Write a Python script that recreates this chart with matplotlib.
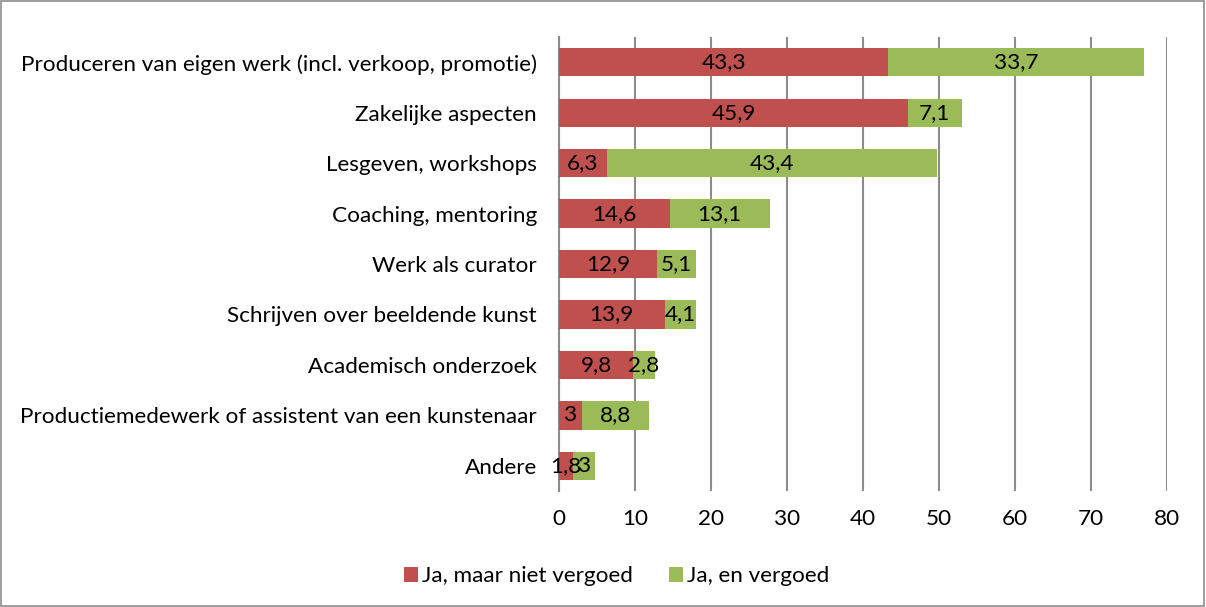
import matplotlib.pyplot as plt
import matplotlib.patches as patches
import numpy as np

categories = [
    "Produceren van eigen werk (incl. verkoop, promotie)",
    "Zakelijke aspecten",
    "Lesgeven, workshops",
    "Coaching, mentoring",
    "Werk als curator",
    "Schrijven over beeldende kunst",
    "Academisch onderzoek",
    "Productiemedewerk of assistent van een kunstenaar",
    "Andere",
]
niet_vergoed = [43.3, 45.9, 6.3, 14.6, 12.9, 13.9, 9.8, 3, 1.8]
vergoed = [33.7, 7.1, 43.4, 13.1, 5.1, 4.1, 2.8, 8.8, 3]
series_names = ["Ja, maar niet vergoed", "Ja, en vergoed"]
xticks = [0, 10, 20, 30, 40, 50, 60, 70, 80]

RED = "#C0504D"
GREEN = "#9BBB59"
GRID = "#8C8C8C"
FS = 16.2

plt.rcParams["font.family"] = ["Lato", "DejaVu Sans"]

fig = plt.figure(figsize=(12.06, 6.07), dpi=100)
ax = fig.add_axes([0.4635, 0.191, 0.5042, 0.748])

y = np.arange(len(categories))
h = 0.56
b1 = ax.barh(y, niet_vergoed, height=h, color=RED, label=series_names[0], zorder=3)
b2 = ax.barh(y, vergoed, left=niet_vergoed, height=h, color=GREEN,
             label=series_names[1], zorder=3)


def fmt(v):
    return f"{v:g}".replace(".", ",")


# labels sit in the middle of each segment (1,8 and 3 overlap, as in the source)
for rects, vals in ((b1, niet_vergoed), (b2, vergoed)):
    for r, v in zip(rects, vals):
        ax.text(r.get_x() + r.get_width() / 2, r.get_y() + r.get_height() / 2,
                fmt(v), ha="center", va="center", fontsize=FS, zorder=4)

ax.set_ylim(len(categories) - 0.5, -0.5)
ax.set_xlim(0, 80)
ax.set_xticks(xticks)
ax.set_yticks(y)
ax.set_yticklabels(categories, fontsize=FS)
ax.tick_params(axis="x", labelsize=FS, length=0, pad=13)
ax.tick_params(axis="y", length=0, pad=16)
ax.grid(axis="x", color=GRID, linewidth=1.5, zorder=0)
for s in ["top", "right", "bottom"]:
    ax.spines[s].set_visible(False)
ax.spines["left"].set_color(GRID)
ax.spines["left"].set_linewidth(1.5)

fig.legend(handles=[b1, b2], loc="center", bbox_to_anchor=(0.511, 0.051),
           ncol=2, frameon=False, fontsize=FS, handlelength=0.65,
           handleheight=0.65, handletextpad=0.15, columnspacing=1.6)

fig.patches.append(patches.Rectangle((0.0005, 0.001), 0.998, 0.997,
                                     transform=fig.transFigure, fill=False,
                                     edgecolor="#8C8C8C", linewidth=1.2))

fig.savefig("out.png", dpi=100)
